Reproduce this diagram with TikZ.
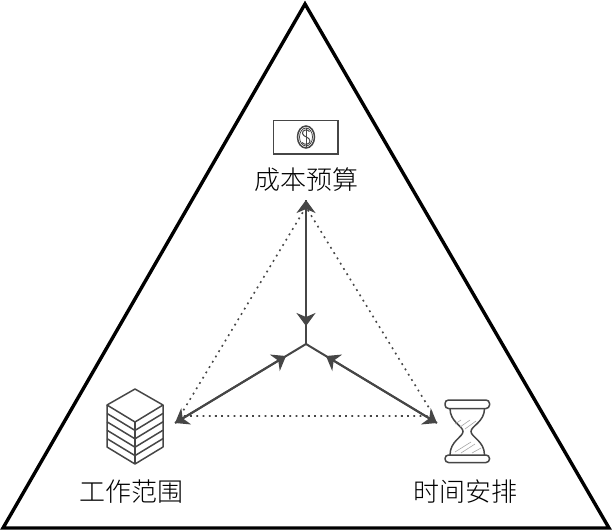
\documentclass[tikz,border=0pt]{standalone}
\usepackage{fontspec}
\setmainfont[UprightFont=* Light]{Noto Sans CJK SC}
\usetikzlibrary{arrows.meta}
\definecolor{ink}{RGB}{70,70,70}
\tikzset{
  x=1pt,y=-1pt,
  frame/.style={line width=3.4pt,black,line join=miter},
  link/.style={line width=2pt,ink,-{Stealth[length=13pt,width=19pt,inset=4pt]}},
  dots/.style={line width=1.6pt,ink,dash pattern=on 1.8pt off 4.4pt},
  icon/.style={line width=1.5pt,ink},
  hatch/.style={line width=.6pt,gray!70},
  label/.style={font=\fontsize{26}{26}\selectfont,inner sep=0pt,black}
}
\begin{document}
\begin{tikzpicture}
\useasboundingbox (0,0) rectangle (612,531);
\fill[white] (0,0) rectangle (612,531);
\draw[frame] (305,4) -- (3,528) -- (609,528) -- cycle;

\coordinate (c) at (306,344);
\coordinate (t) at (306,200);
\coordinate (l) at (175,423);
\coordinate (r) at (437,423);
\coordinate (tm) at (306,326);
\coordinate (lm) at (286,356);
\coordinate (rm) at (326,356);
\coordinate (dt) at (306,207);
\coordinate (dl) at (180,416);
\coordinate (dr) at (434,416);

\draw[dots] (dt) -- (dl) -- (dr) -- cycle;
\draw[link] (c) -- (t);
\draw[link] (c) -- (l);
\draw[link] (c) -- (r);
\draw[link] (t) -- (tm);
\draw[link] (l) -- (lm);
\draw[link] (r) -- (rm);

% bill
\draw[icon] (273.5,120.5) rectangle (338,154);
\draw[icon] (306,137) ellipse (8.5 and 11);
\draw[line width=.8pt,ink] (306,137) ellipse (6.5 and 9);
\draw[line width=1pt,ink] (309.5,131.5) .. controls (307,128.5) and (302,130) .. (302.5,133.5)
  .. controls (303,137) and (310,137) .. (310,141) .. controls (310,144.5) and (304.5,145.5) .. (302,142.5);
\draw[line width=.8pt,ink] (306,127.5) -- (306,146.5);

% stack
\draw[icon,line join=round] (135,389) -- (163,405) -- (135,422) -- (107,405) -- cycle;
\draw[icon,line join=round] (107,405) -- (107,447) -- (135,464) -- (163,447) -- (163,405);
\draw[icon] (135,422) -- (135,464);
\foreach \k in {1,2,3,4}{
  \draw[icon] (107,405+8.4*\k) -- (135,422+8.4*\k) -- (163,405+8.4*\k);
}

% hourglass
\draw[icon,rounded corners=3.5pt] (445,400) rectangle (489.5,408.5);
\draw[icon,rounded corners=3.5pt] (445,455) rectangle (489.5,462.5);
\draw[icon] (450,408.5) .. controls (450,422) and (463,426) .. (463,431.5)
  .. controls (463,437) and (450,441) .. (450,455);
\draw[icon] (484.5,408.5) .. controls (484.5,422) and (471,426) .. (471,431.5)
  .. controls (471,437) and (484.5,441) .. (484.5,455);
\draw[hatch] (455,424) -- (461,420);
\draw[hatch] (460,427) -- (470,420);
\draw[hatch] (465,429) -- (476,421);
\draw[hatch] (455,452) -- (471,442);
\draw[hatch] (461,453) -- (475,444);
\draw[hatch] (472,453) -- (481,448);

\node[label] (budget) at (306,180) {成本预算};
\node[label] (scope) at (131,492) {工作范围};
\node[label] (time) at (465,492) {时间安排};
\end{tikzpicture}
\end{document}
